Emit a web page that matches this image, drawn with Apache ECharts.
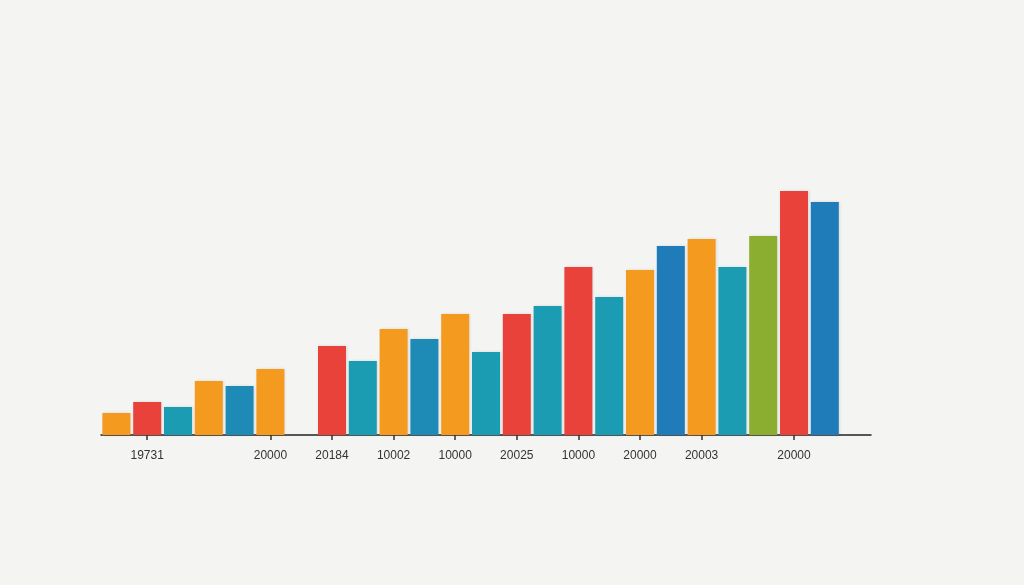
<!DOCTYPE html>
<html>
<head>
<meta charset="utf-8">
<script src="https://cdn.jsdelivr.net/npm/echarts@6/dist/echarts.min.js"></script>
<style>
  html, body { margin: 0; padding: 0; background: #f4f4f2; }
  #main { width: 1024px; height: 585px; }
</style>
</head>
<body>
<div id="main"></div>
<script>
// one slot per bar, empty slots where the picture leaves a gap
var slotLabels = ['', '19731', '', '', '', '20000', '', '20184', '', '10002', '', '10000', '',
    '20025', '', '10000', '', '20000', '', '20003', '', '', '20000', '', ''];

var barValues = [22, 33, 28, 54, 49, 66, null, 89, 74, 106, 96, 121, 83,
    121, 129, 168, 138, 165, 189, 196, 168, 199, 244, 233, null];

var barKinds = ['orange', 'red', 'teal', 'orange', 'steel', 'orange', null, 'red', 'teal', 'orange', 'steel', 'orange', 'teal',
    'red', 'teal', 'red', 'teal', 'orange', 'blue', 'orange', 'teal', 'green', 'red', 'blue', null];

var palette = {
    orange: '#f39a1f',
    red: '#e8423b',
    teal: '#1c9cb2',
    steel: '#1d8bb6',
    blue: '#1f7cb8',
    green: '#8cae30'
};

function hasLabel(index) {
    return slotLabels[index] !== '';
}

var option = {
    backgroundColor: '#f4f4f2',
    animation: false,
    grid: {
        left: 101,
        right: 153,
        top: 185,
        bottom: 150
    },
    xAxis: {
        type: 'category',
        data: slotLabels.map(function (l, i) { return 's' + i; }),
        axisLine: {
            lineStyle: { color: '#222', width: 1.5 }
        },
        axisTick: {
            show: true,
            alignWithLabel: true,
            length: 5,
            interval: function (index) { return hasLabel(index); },
            lineStyle: { color: '#333', width: 1.5 }
        },
        axisLabel: {
            interval: function (index) { return hasLabel(index); },
            margin: 15,
            fontSize: 12,
            fontFamily: 'Liberation Sans, Arial, sans-serif',
            color: '#333',
            formatter: function (value, index) {
                return slotLabels[index];
            }
        }
    },
    yAxis: {
        type: 'value',
        min: 0,
        max: 250,
        show: false
    },
    series: [{
        type: 'bar',
        barWidth: 28,
        data: barValues.map(function (v, i) {
            if (v === null) return null;
            return {
                value: v,
                itemStyle: {
                    color: palette[barKinds[i]],
                    shadowColor: 'rgba(0,0,0,0.12)',
                    shadowBlur: 3,
                    shadowOffsetX: 1
                }
            };
        })
    }]
};

var myChart = echarts.init(document.getElementById('main'));
myChart.setOption(option);
</script>
</body>
</html>
